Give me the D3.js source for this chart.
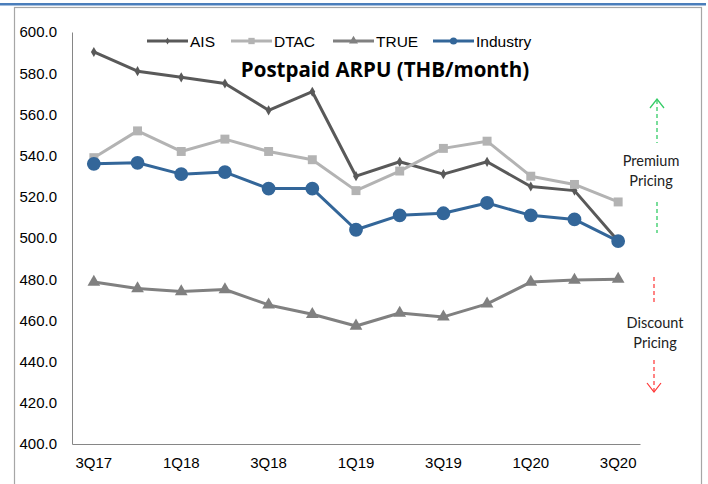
<!DOCTYPE html>
<html><head><meta charset="utf-8">
<script src="https://cdn.jsdelivr.net/npm/d3@7"></script>
<style>body{margin:0;background:#fff}svg{display:block}</style>
</head><body>
<script>
const categories = ["3Q17","4Q17","1Q18","2Q18","3Q18","4Q18","1Q19","2Q19","3Q19","4Q19","1Q20","2Q20","3Q20"];
const tickLabels = ["3Q17","1Q18","3Q18","1Q19","3Q19","1Q20","3Q20"];
const yTicks = [400,420,440,460,480,500,520,540,560,580,600];
const ais = [590.3,581,578,575,562,571,530,537,531,537,525,523,498.5];
const dtac = [539,552,542,548,542,538,523,532.5,543.5,547,530,526,517.5];
const trueMove = [478.6,475.5,474,475,467.5,463,457.3,463.6,461.7,468,478.6,479.6,480];
const industry = [536,536.5,531,532,524,524,504,511,512,517,511,509,498.5];
const seriesNames = ["AIS","DTAC","TRUE","Industry"];

const W=708,H=484;
const svg=d3.select("body").append("svg").attr("width",W).attr("height",H);
svg.append("rect").attr("x",0).attr("y",3).attr("width",706).attr("height",2.5).attr("fill","#4a7ebb");
svg.append("rect").attr("x",14.5).attr("y",7.5).attr("width",687).attr("height",490).attr("fill","none").attr("stroke","#a6a6a6").attr("stroke-width",1.2);

const x=d3.scaleBand().domain(categories).range([72,640]);
const y=d3.scaleLinear().domain([400,600]).range([444,32]);
const cx=d=>x(d)+x.bandwidth()/2;

const yAxis=svg.append("g").attr("transform","translate(72,0)")
  .call(d3.axisLeft(y).tickValues(yTicks).tickFormat(d3.format(".1f")).tickSize(0).tickPadding(15));
yAxis.select(".domain").attr("stroke","#868686").attr("stroke-width",1);
yAxis.selectAll("text").attr("font-family","Liberation Sans, Arial, sans-serif").attr("font-size",15).attr("fill","#000");

const xAxis=svg.append("g").attr("transform","translate(0,444)")
  .call(d3.axisBottom(x).tickValues(tickLabels).tickSize(0).tickPadding(13));
xAxis.select(".domain").attr("stroke","#868686").attr("stroke-width",1);
xAxis.selectAll("text").attr("font-family","Liberation Sans, Arial, sans-serif").attr("font-size",15).attr("fill","#000");

const line=d3.line().x((d,i)=>cx(categories[i])).y(d=>y(d));
const styles=[
  {name:"AIS",data:ais,color:"#595959",sym:d3.symbolDiamond,size:30},
  {name:"DTAC",data:dtac,color:"#b3b3b3",sym:d3.symbolSquare,size:80},
  {name:"TRUE",data:trueMove,color:"#808080",sym:d3.symbolTriangle,size:70},
  {name:"Industry",data:industry,color:"#336699",sym:d3.symbolCircle,size:150}
];
styles.forEach(s=>{
  svg.append("path").datum(s.data).attr("d",line).attr("fill","none").attr("stroke",s.color).attr("stroke-width",3).attr("stroke-linejoin","round");
  svg.append("g").selectAll("path").data(s.data).join("path")
    .attr("transform",(d,i)=>`translate(${cx(categories[i])},${y(d)})`)
    .attr("d",d3.symbol().type(s.sym).size(s.size)).attr("fill",s.color);
});

const legX=[147,231,333,433];
styles.forEach((s,i)=>{
  const g=svg.append("g").attr("transform",`translate(${legX[i]},41)`);
  g.append("line").attr("x1",0).attr("x2",41).attr("stroke",s.color).attr("stroke-width",3);
  g.append("path").attr("transform","translate(20.5,0)").attr("d",d3.symbol().type(s.sym).size(s.name==="Industry"?40:s.size*0.5)).attr("fill",s.color);
  g.append("text").attr("x",43).attr("y",5.5).text(seriesNames[i])
    .attr("font-family","Liberation Sans, Arial, sans-serif").attr("font-size",15.5).attr("fill","#000");
});

svg.append("text").attr("x",385).attr("y",77).attr("text-anchor","middle").text("Postpaid ARPU (THB/month)")
  .attr("font-family","Open Sans, sans-serif").attr("font-weight","bold").attr("font-size",20.5).attr("fill","#000");

const ann=svg.append("g").attr("font-family","Lato, Carlito, sans-serif").attr("font-size",14.5).attr("fill","#222").attr("text-anchor","middle");
const green="#33cc66", red="#ff3333";
ann.append("line").attr("x1",657).attr("x2",657).attr("y1",100).attr("y2",143).attr("stroke",green).attr("stroke-width",1.3).attr("stroke-dasharray","4,3");
ann.append("path").attr("d","M650,108 L657,99 L664,108").attr("fill","none").attr("stroke",green).attr("stroke-width",1.3);
ann.append("text").attr("x",651).attr("y",166).text("Premium");
ann.append("text").attr("x",651).attr("y",186).text("Pricing");
ann.append("line").attr("x1",657).attr("x2",657).attr("y1",202).attr("y2",233).attr("stroke",green).attr("stroke-width",1.3).attr("stroke-dasharray","4,3");

ann.append("line").attr("x1",654).attr("x2",654).attr("y1",277).attr("y2",304).attr("stroke",red).attr("stroke-width",1.2).attr("stroke-dasharray","4,3");
ann.append("text").attr("x",655).attr("y",328).text("Discount");
ann.append("text").attr("x",655).attr("y",348).text("Pricing");
ann.append("line").attr("x1",654).attr("x2",654).attr("y1",360).attr("y2",391).attr("stroke",red).attr("stroke-width",1.2).attr("stroke-dasharray","4,3");
ann.append("path").attr("d","M647,383 L654,392 L661,383").attr("fill","none").attr("stroke",red).attr("stroke-width",1.2);
</script>
</body></html>
